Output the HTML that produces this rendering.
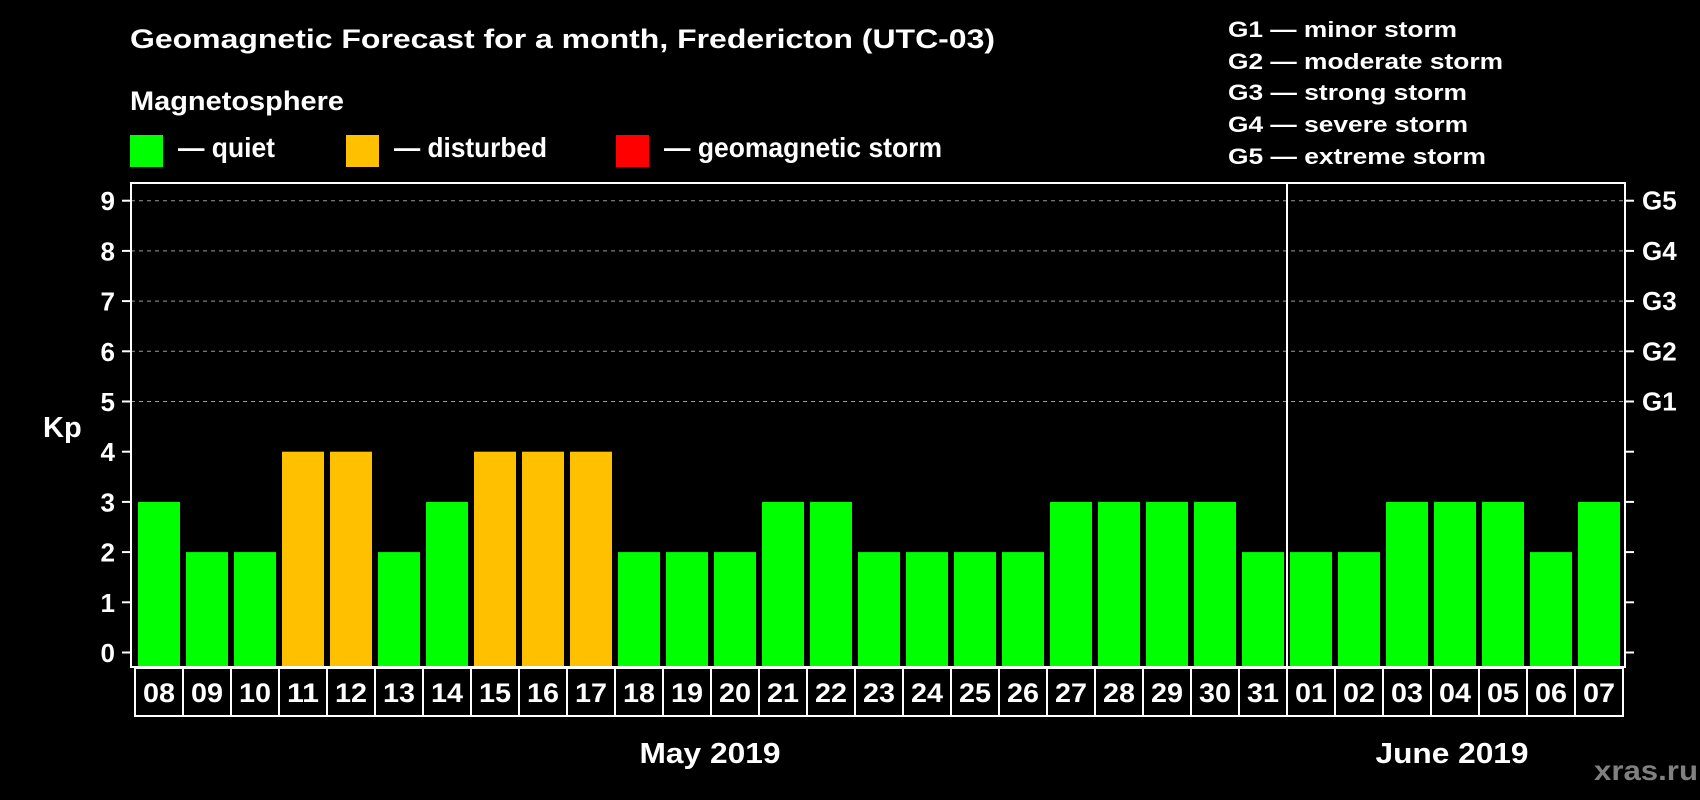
<!DOCTYPE html>
<html><head><meta charset="utf-8"><style>
html,body{margin:0;padding:0;background:#000;}
svg{display:block;font-family:"Liberation Sans",Arial,sans-serif;font-weight:bold;}
</style></head><body>
<svg id="chart" width="1700" height="800" viewBox="0 0 1700 800">
<rect x="0" y="0" width="1700" height="800" fill="#000"/>
<text x="130" y="48" font-size="27" fill="#fff" textLength="865" lengthAdjust="spacingAndGlyphs">Geomagnetic Forecast for a month, Fredericton (UTC-03)</text>
<text x="130" y="110" font-size="27" fill="#fff" textLength="214" lengthAdjust="spacingAndGlyphs">Magnetosphere</text>
<g>
<rect x="130" y="135" width="33" height="32" fill="#00ff00"/>
<text x="178" y="157" font-size="28" fill="#fff" textLength="97" lengthAdjust="spacingAndGlyphs">— quiet</text>
</g>
<g>
<rect x="346" y="135" width="33" height="32" fill="#ffc000"/>
<text x="394" y="157" font-size="28" fill="#fff" textLength="153" lengthAdjust="spacingAndGlyphs">— disturbed</text>
</g>
<g>
<rect x="616" y="135" width="33" height="32" fill="#ff0000"/>
<text x="664" y="157" font-size="28" fill="#fff" textLength="278" lengthAdjust="spacingAndGlyphs">— geomagnetic storm</text>
</g>
<g font-size="22" fill="#fff">
<text x="1228" y="37" textLength="229" lengthAdjust="spacingAndGlyphs">G1 — minor storm</text>
<text x="1228" y="69" textLength="275" lengthAdjust="spacingAndGlyphs">G2 — moderate storm</text>
<text x="1228" y="100" textLength="239" lengthAdjust="spacingAndGlyphs">G3 — strong storm</text>
<text x="1228" y="132" textLength="240" lengthAdjust="spacingAndGlyphs">G4 — severe storm</text>
<text x="1228" y="164" textLength="258" lengthAdjust="spacingAndGlyphs">G5 — extreme storm</text>
</g>
<text x="43" y="437" font-size="29" fill="#fff">Kp</text>
<g id="grid"></g>
<g id="bars"></g>
<g id="axes"></g>
<text x="710" y="763" font-size="29" fill="#fff" text-anchor="middle" textLength="141" lengthAdjust="spacingAndGlyphs">May 2019</text>
<text x="1452" y="763" font-size="29" fill="#fff" text-anchor="middle" textLength="153" lengthAdjust="spacingAndGlyphs">June 2019</text>
<text x="1594" y="780" font-size="28" fill="#808080" textLength="104" lengthAdjust="spacingAndGlyphs">xras.ru</text>
</svg>
<script>
const days = ["08","09","10","11","12","13","14","15","16","17","18","19","20","21","22","23","24","25","26","27","28","29","30","31","01","02","03","04","05","06","07"];
const kpValues = [3,2,2,4,4,2,3,4,4,4,2,2,2,3,3,2,2,2,2,3,3,3,3,2,2,2,3,3,3,2,3];
const yTicks = [0,1,2,3,4,5,6,7,8,9];
const gLabels = ["G1","G2","G3","G4","G5"];
const gLevels = [5,6,7,8,9];
const monthSplitIndex = 24;

const NS = "http://www.w3.org/2000/svg";
const plotL = 131, plotR = 1625, plotT = 183, plotB = 667;
const x0 = 138, pitch = 48, barW = 42;
function yScale(v){ return 652.5 - v * 50.2; }
function xScale(i){ return x0 + i * pitch; }
function colorFor(v){ return v >= 5 ? "#ff0000" : (v >= 4 ? "#ffc000" : "#00ff00"); }
function mk(tag, attrs){ const e = document.createElementNS(NS, tag); for (const k in attrs) e.setAttribute(k, attrs[k]); return e; }

const grid = document.getElementById("grid");
const bars = document.getElementById("bars");
const axes = document.getElementById("axes");

gLevels.forEach((lv, i) => {
  const l = mk("line", {x1: plotL, x2: plotR, y1: yScale(lv), y2: yScale(lv), stroke: "#999", "stroke-width": 1, "stroke-dasharray": "4,4"});
  
  
  grid.appendChild(l);
  const t = mk("text", {x: 1642, y: yScale(lv) + 9, "font-size": 26, fill: "#fff"});
  t.textContent = gLabels[i];
  
  
  axes.appendChild(t);
});

kpValues.forEach((v, i) => {
  const r = mk("rect", {x: xScale(i), y: yScale(v), width: barW, height: plotB - yScale(v), fill: colorFor(v)});
  
  
  bars.appendChild(r);
});

yTicks.forEach(v => {
  const y = yScale(v);
  const tl = mk("line", {x1: 122, x2: plotL, y1: y, y2: y, stroke: "#fff", "stroke-width": 2});
  
  
  axes.appendChild(tl);
  const tr = mk("line", {x1: plotR, x2: 1634, y1: y, y2: y, stroke: "#fff", "stroke-width": 2});
  
  
  axes.appendChild(tr);
  const t = mk("text", {x: 115, y: y + 9.5, "font-size": 26, fill: "#fff", "text-anchor": "end"});
  t.textContent = v;
  
  
  axes.appendChild(t);
});

const frame = mk("rect", {x: plotL, y: plotT, width: plotR - plotL, height: plotB - plotT, fill: "none", stroke: "#fff", "stroke-width": 2});


axes.appendChild(frame);

const divX = xScale(monthSplitIndex) - 3;
const div = mk("line", {x1: divX, x2: divX, y1: plotT, y2: plotB, stroke: "#fff", "stroke-width": 2});


axes.appendChild(div);

days.forEach((d, i) => {
  const cx = xScale(i) - 3;
  const c = mk("rect", {x: cx, y: 668, width: pitch, height: 48, fill: "#000", stroke: "#fff", "stroke-width": 2});
  
  
  axes.appendChild(c);
  const t = mk("text", {x: cx + pitch / 2, y: 702, "font-size": 27, fill: "#fff", "text-anchor": "middle", textLength: 32, lengthAdjust: "spacingAndGlyphs"});
  t.textContent = d;
  
  
  axes.appendChild(t);
});
</script>
</body></html>
